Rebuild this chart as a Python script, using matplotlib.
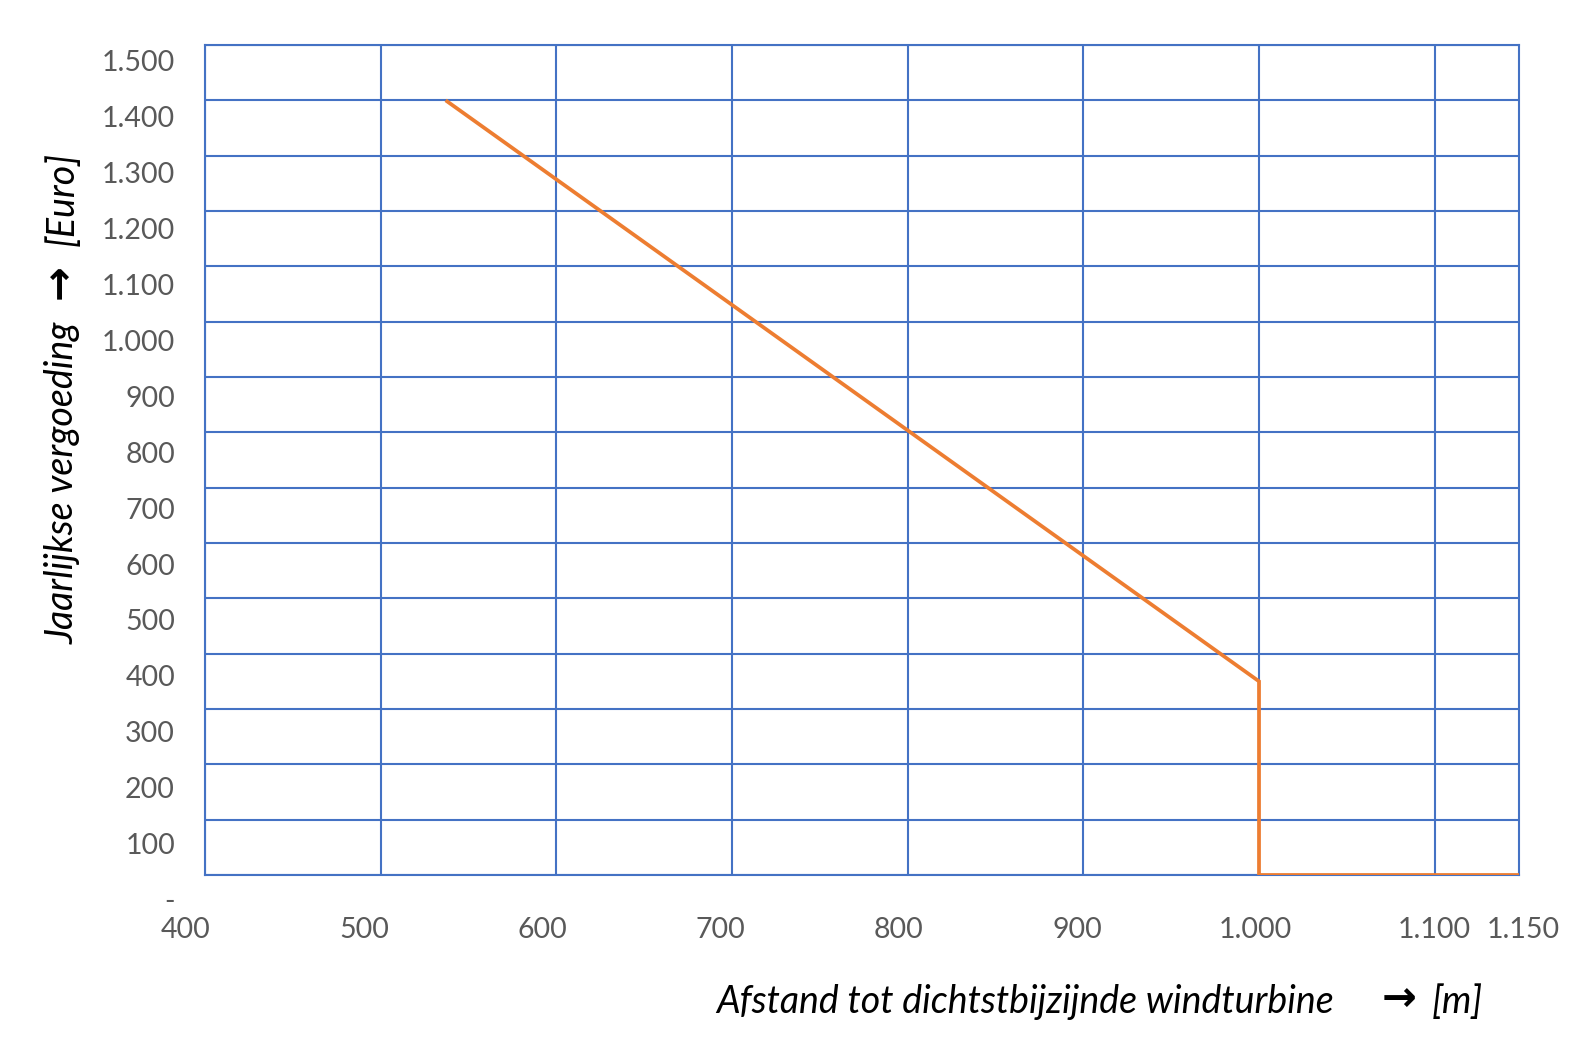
import matplotlib
matplotlib.use("Agg")
import matplotlib.pyplot as plt

# Data
afstand = [537, 1000, 1000, 1150]
vergoeding = [1400, 350, 0, 0]

x_ticks = [400, 500, 600, 700, 800, 900, 1000, 1100, 1150]
x_labels = ["400", "500", "600", "700", "800", "900", "1.000", "1.100", "1.150"]
y_ticks = list(range(0, 1600, 100))
y_labels = ["-"] + [f"{v:,}".replace(",", ".") for v in y_ticks[1:]]

x_label_parts = ["Afstand tot dichtstbijzijnde windturbine", "\u2192", "[m]"]
y_label_parts = ["Jaarlijkse vergoeding", "\u2192", "[Euro]"]

W, H = 1590, 1056
fig = plt.figure(figsize=(W / 100, H / 100), dpi=100)
fam = ["Lato", "DejaVu Sans"]
arrow_fam = ["Noto Sans", "DejaVu Sans"]
grid_c = "#4472C4"
line_c = "#ED7D31"
tick_c = "#595959"

def fx(px):
    return px / W

def fy(py):
    return 1 - py / H

# main axes
L, R, T, B = 205, 1519, 45, 875
ax = fig.add_axes([fx(L), fy(B), fx(R - L), (B - T) / H])
ax.set_xlim(400, 1148)
ax.set_ylim(0, 1500)
ax.set_xticks(x_ticks[:-1])
ax.set_yticks(y_ticks)
ax.grid(True, color=grid_c, linewidth=1.5)
ax.tick_params(length=0, labelbottom=False, labelleft=False)
for s in ax.spines.values():
    s.set_color(grid_c)
    s.set_linewidth(1.5)
ax.plot(afstand, vergoeding, color=line_c, linewidth=2.7, solid_capstyle="butt",
        solid_joinstyle="miter", zorder=5)

# x tick labels (offset scale as in reference)
xl0, xl1, ylab = 185.6, 1523, 930
axx = fig.add_axes([fx(xl0), fy(ylab), fx(xl1 - xl0), 0.0001])
axx.set_xlim(400, 1150)
axx.set_xticks(x_ticks, x_labels)
axx.tick_params(length=0, pad=0, labelsize=20.5, labelcolor=tick_c)
axx.set_yticks([])
for s in axx.spines.values():
    s.set_visible(False)
for t in axx.get_xticklabels():
    t.set_va("center")
    t.set_family(fam)

# y tick labels
yt0, yt1, xr = 60.8, 899.5, 175
axy = fig.add_axes([fx(xr), fy(yt1), 0.0001, (yt1 - yt0) / H])
axy.set_ylim(0, 1500)
axy.set_yticks(y_ticks, y_labels)
axy.tick_params(length=0, pad=0, labelsize=20.5, labelcolor=tick_c)
axy.set_xticks([])
for s in axy.spines.values():
    s.set_visible(False)
for t in axy.get_yticklabels():
    t.set_ha("right")
    t.set_family(fam)

# axis titles
lab_fs = 27
yx = 1002
fig.text(fx(716), fy(yx), x_label_parts[0], ha="left", va="center", fontsize=lab_fs,
         style="italic", family=fam, color="black")
fig.text(fx(1399), fy(yx - 2), x_label_parts[1], ha="center", va="center", fontsize=30,
         weight="bold", family=arrow_fam, color="black")
fig.text(fx(1432), fy(yx), x_label_parts[2], ha="left", va="center", fontsize=lab_fs,
         style="italic", family=fam, color="black")

xy = 63
fig.text(fx(xy), fy(644), y_label_parts[0], ha="center", va="bottom", fontsize=lab_fs,
         style="italic", family=fam, color="black", rotation=90)
fig.text(fx(xy - 2), fy(282), y_label_parts[1], ha="center", va="center", fontsize=30,
         weight="bold", family=arrow_fam, color="black", rotation=90)
fig.text(fx(xy), fy(152), y_label_parts[2], ha="center", va="top", fontsize=lab_fs,
         style="italic", family=fam, color="black", rotation=90)

fig.savefig("out.png", dpi=100)
